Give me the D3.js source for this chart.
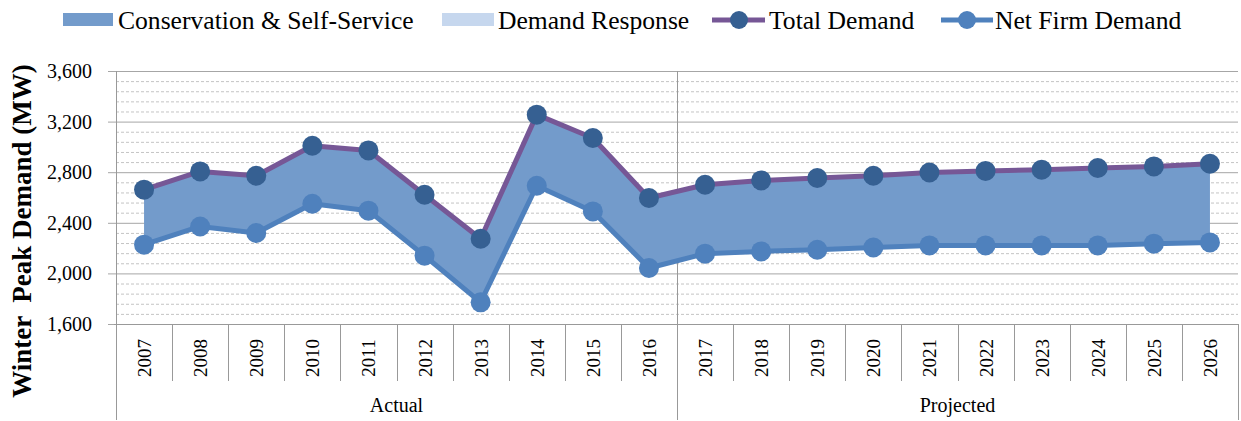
<!DOCTYPE html>
<html>
<head>
<meta charset="utf-8">
<script src="https://cdn.jsdelivr.net/npm/d3@7"></script>
<style>
  body { margin: 0; background: #fff; }
  svg { display: block; }
  text { font-family: "Liberation Serif", "Times New Roman", serif; fill: #000; }
</style>
</head>
<body>
<div id="chart"></div>
<script>
const years = ['2007','2008','2009','2010','2011','2012','2013','2014','2015','2016',
               '2017','2018','2019','2020','2021','2022','2023','2024','2025','2026'];
const totalDemand = [2662, 2806, 2772, 3009, 2972, 2622, 2274, 3255, 3070, 2596,
                     2701, 2735, 2754, 2772, 2798, 2810, 2820, 2833, 2846, 2867];
const netFirmDemand = [2227, 2371, 2319, 2551, 2496, 2140, 1771, 2693, 2490, 2043,
                       2156, 2174, 2187, 2205, 2221, 2221, 2221, 2221, 2235, 2245];
const groups = [
  { name: 'Actual', from: '2007', to: '2016' },
  { name: 'Projected', from: '2017', to: '2026' }
];
const yTicks = [1600, 2000, 2400, 2800, 3200, 3600];
const legendItems = ['Conservation & Self-Service', 'Demand Response', 'Total Demand', 'Net Firm Demand'];

const width = 1241, height = 421;
const margin = {top: 71, right: 3, bottom: 97, left: 116};

const svg = d3.select('#chart').append('svg')
  .attr('width', width)
  .attr('height', height);

const x = d3.scaleBand()
  .domain(years)
  .range([margin.left, width - margin.right])
  .padding(0);

const y = d3.scaleLinear()
  .domain([1600, 3600])
  .range([height - margin.bottom, margin.top]);

const cx = d => x(d) + x.bandwidth() / 2;

// minor gridlines (dashed, every 80)
svg.append('g')
  .selectAll('line')
  .data(d3.range(1600, 3601, 80).filter(v => v % 400 !== 0))
  .join('line')
  .attr('x1', margin.left).attr('x2', width - margin.right)
  .attr('y1', d => y(d) + 0.5).attr('y2', d => y(d) + 0.5)
  .attr('stroke', '#c4c4c4')
  .attr('stroke-dasharray', '3,2');

// major gridlines
svg.append('g')
  .selectAll('line')
  .data(yTicks)
  .join('line')
  .attr('x1', margin.left - 8).attr('x2', width - margin.right)
  .attr('y1', d => y(d) + 0.5).attr('y2', d => y(d) + 0.5)
  .attr('stroke', '#a6a6a6');

// y tick labels
svg.append('g')
  .selectAll('text')
  .data(yTicks)
  .join('text')
  .attr('x', 92)
  .attr('y', d => y(d))
  .attr('dy', '0.35em')
  .attr('text-anchor', 'end')
  .attr('font-size', 20)
  .text(d => d3.format(',')(d));

// left axis and divider
svg.append('line')
  .attr('x1', margin.left + 0.5).attr('x2', margin.left + 0.5)
  .attr('y1', y(3600)).attr('y2', height - 1)
  .attr('stroke', '#999');
svg.append('line')
  .attr('x1', Math.round(x('2017')) + 0.5).attr('x2', Math.round(x('2017')) + 0.5)
  .attr('y1', y(3600)).attr('y2', height - 1)
  .attr('stroke', '#999');
svg.append('line')
  .attr('x1', width - margin.right + 0.5).attr('x2', width - margin.right + 0.5)
  .attr('y1', y(1600)).attr('y2', height - 1)
  .attr('stroke', '#999');

// area between net firm and total demand
const area = d3.area()
  .x((d, i) => cx(years[i]))
  .y0((d, i) => y(netFirmDemand[i]))
  .y1(d => y(d));
svg.append('path')
  .datum(totalDemand)
  .attr('d', area)
  .attr('fill', '#739bcb');

const line = d3.line().x((d, i) => cx(years[i])).y(d => y(d));

// net firm demand
svg.append('path')
  .datum(netFirmDemand)
  .attr('d', line)
  .attr('fill', 'none')
  .attr('stroke', '#4f81bd')
  .attr('stroke-width', 5)
  .attr('stroke-linejoin', 'round');
svg.append('g')
  .selectAll('circle')
  .data(netFirmDemand)
  .join('circle')
  .attr('cx', (d, i) => cx(years[i]))
  .attr('cy', d => y(d))
  .attr('r', 10)
  .attr('fill', '#4f81bd');

// total demand
svg.append('path')
  .datum(totalDemand)
  .attr('d', line)
  .attr('fill', 'none')
  .attr('stroke', '#765796')
  .attr('stroke-width', 5)
  .attr('stroke-linejoin', 'round');
svg.append('g')
  .selectAll('circle')
  .data(totalDemand)
  .join('circle')
  .attr('cx', (d, i) => cx(years[i]))
  .attr('cy', d => y(d))
  .attr('r', 10)
  .attr('fill', '#366092');

// x axis: category boxes
svg.append('line')
  .attr('x1', margin.left - 2).attr('x2', width - margin.right + 1)
  .attr('y1', y(1600) + 0.5).attr('y2', y(1600) + 0.5)
  .attr('stroke', '#999');

svg.append('g')
  .selectAll('line')
  .data(years.filter(d => d !== '2007' && d !== '2017'))
  .join('line')
  .attr('x1', d => Math.round(x(d)) + 0.5).attr('x2', d => Math.round(x(d)) + 0.5)
  .attr('y1', y(1600)).attr('y2', 381)
  .attr('stroke', '#999');

svg.append('g')
  .selectAll('text')
  .data(years)
  .join('text')
  .attr('transform', d => `translate(${cx(d) + 7},358) rotate(-90)`)
  .attr('text-anchor', 'middle')
  .attr('font-size', 19)
  .text(d => d);

svg.append('g')
  .selectAll('text')
  .data(groups)
  .join('text')
  .attr('x', d => (x(d.from) + x(d.to) + x.bandwidth()) / 2)
  .attr('y', 412)
  .attr('text-anchor', 'middle')
  .attr('font-size', 20)
  .text(d => d.name);

// y axis title
svg.append('text')
  .attr('transform', 'translate(31,231) rotate(-90)')
  .attr('text-anchor', 'middle')
  .attr('font-size', 27)
  .attr('font-weight', 'bold')
  .attr('xml:space', 'preserve')
  .style('white-space', 'pre')
  .text('Winter  Peak Demand (MW)');

// legend
const legend = svg.append('g').attr('font-size', 25.6);
const legendX = [63, 442, 712, 941];
legend.append('rect').attr('x', legendX[0]).attr('y', 13).attr('width', 50).attr('height', 13).attr('fill', '#739bcb');
legend.append('rect').attr('x', legendX[1]).attr('y', 13).attr('width', 52).attr('height', 13).attr('fill', '#c6d7ee');
legend.append('line').attr('x1', legendX[2]).attr('x2', legendX[2] + 53).attr('y1', 20).attr('y2', 20)
  .attr('stroke', '#765796').attr('stroke-width', 5);
legend.append('circle').attr('cx', legendX[2] + 27).attr('cy', 20).attr('r', 9).attr('fill', '#366092');
legend.append('line').attr('x1', legendX[3]).attr('x2', legendX[3] + 52).attr('y1', 20).attr('y2', 20)
  .attr('stroke', '#4f81bd').attr('stroke-width', 5);
legend.append('circle').attr('cx', legendX[3] + 26).attr('cy', 20).attr('r', 9).attr('fill', '#4f81bd');
legend.selectAll('text.lbl')
  .data(legendItems)
  .join('text')
  .attr('class', 'lbl')
  .attr('x', (d, i) => [118, 498, 769, 995][i])
  .attr('y', 20)
  .attr('dy', '0.35em')
  .text(d => d);
</script>
</body>
</html>
